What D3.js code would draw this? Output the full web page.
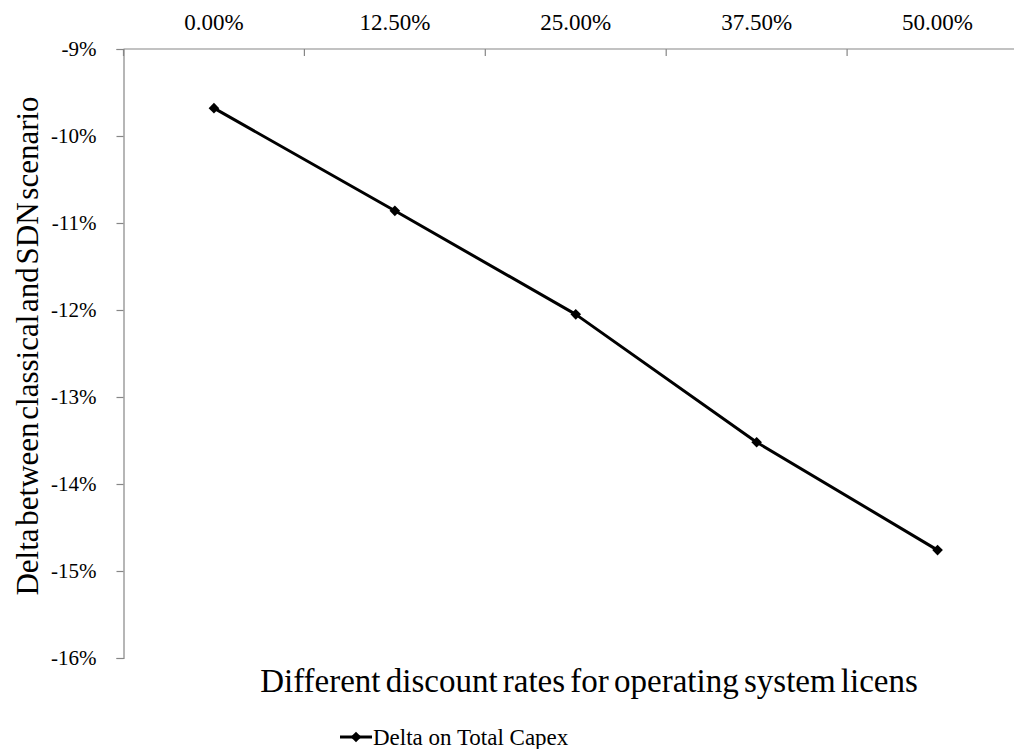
<!DOCTYPE html>
<html>
<head>
<meta charset="utf-8">
<script src="https://cdn.jsdelivr.net/npm/d3@7"></script>
<style>
  html, body { margin: 0; padding: 0; background: #fff; }
  svg { display: block; }
</style>
</head>
<body>
<svg id="chart" width="1014" height="749"></svg>
<script>
// Discount rate categories (top axis) and the resulting capex delta (%)
const categories = ["0.00%", "12.50%", "25.00%", "37.50%", "50.00%"];
const deltaTotalCapex = [-9.68, -10.86, -12.05, -13.52, -14.76];
const yTicks = [-9, -10, -11, -12, -13, -14, -15, -16];
const seriesName = "Delta on Total Capex";
const xTitle = "Different discount rates for operating system licens";
const yTitle = "Delta between classical and SDN scenario";

const FONT = '"Liberation Serif", "Times New Roman", serif';
const svg = d3.select("#chart");
const axisColor = "#868686";

const plot = { left: 123.5, right: 1028, top: 49, bottom: 658 };

const x = d3.scaleBand().domain(categories).range([plot.left, plot.right]).paddingInner(0).paddingOuter(0);
const y = d3.scaleLinear().domain([-9, -16]).range([plot.top, plot.bottom]);

// Category axis across the top; ticks sit on band boundaries and point into the plot
const xAxisG = svg.append("g").attr("transform", `translate(0,${plot.top})`);
xAxisG.append("line")
  .attr("x1", plot.left).attr("x2", plot.right)
  .attr("y1", 0).attr("y2", 0)
  .attr("stroke", axisColor).attr("stroke-width", 1.2);
const bounds = categories.map(c => x(c));
xAxisG.selectAll("line.tick").data(bounds).join("line")
  .attr("class", "tick")
  .attr("x1", d => d).attr("x2", d => d)
  .attr("y1", 0).attr("y2", 7)
  .attr("stroke", axisColor).attr("stroke-width", 1.2);
xAxisG.selectAll("text").data(categories).join("text")
  .attr("x", d => x(d) + x.bandwidth() / 2)
  .attr("y", -19)
  .attr("text-anchor", "middle")
  .style("font-family", FONT)
  .style("font-size", "23px")
  .attr("fill", "#000")
  .text(d => d);

// Value axis on the left
const yAxis = d3.axisLeft(y).tickValues(yTicks).tickSize(7).tickPadding(20)
  .tickFormat(d => d + "%");
const yAxisG = svg.append("g").attr("transform", `translate(${plot.left},0)`).call(yAxis);
yAxisG.select(".domain").attr("stroke", axisColor).attr("stroke-width", 1.2);
yAxisG.selectAll(".tick line").attr("stroke", axisColor).attr("stroke-width", 1.2);
yAxisG.selectAll(".tick text")
  .style("font-family", FONT)
  .style("font-size", "21px")
  .attr("fill", "#000");

// Data series
const pts = categories.map((c, i) => [x(c) + x.bandwidth() / 2, y(deltaTotalCapex[i])]);
svg.append("path")
  .attr("d", d3.line()(pts))
  .attr("fill", "none").attr("stroke", "#000").attr("stroke-width", 3)
  .attr("stroke-linejoin", "round");
const diamond = d3.symbol().type(d3.symbolDiamond2).size(72);
svg.selectAll("path.marker").data(pts).join("path")
  .attr("class", "marker")
  .attr("transform", d => `translate(${d[0]},${d[1]})`)
  .attr("d", diamond())
  .attr("fill", "#000");

// Axis titles
svg.append("text")
  .attr("x", 589).attr("y", 692)
  .attr("text-anchor", "middle")
  .style("font-family", FONT)
  .style("font-size", "33px")
  .style("word-spacing", "-3px")
  .text(xTitle);

svg.append("text")
  .attr("transform", `translate(38,346) rotate(-90)`)
  .attr("text-anchor", "middle")
  .style("font-family", FONT)
  .style("font-size", "31px")
  .style("word-spacing", "-5px")
  .text(yTitle);

// Legend
const lg = svg.append("g").attr("transform", "translate(340,737)");
lg.append("line").attr("x1", 0).attr("x2", 32).attr("y1", 0).attr("y2", 0)
  .attr("stroke", "#000").attr("stroke-width", 3);
lg.append("path").attr("transform", "translate(16,0)").attr("d", diamond()).attr("fill", "#000");
lg.append("text").attr("x", 33).attr("y", 7.5)
  .style("font-family", FONT).style("font-size", "23px")
  .text(seriesName);
</script>
</body>
</html>
